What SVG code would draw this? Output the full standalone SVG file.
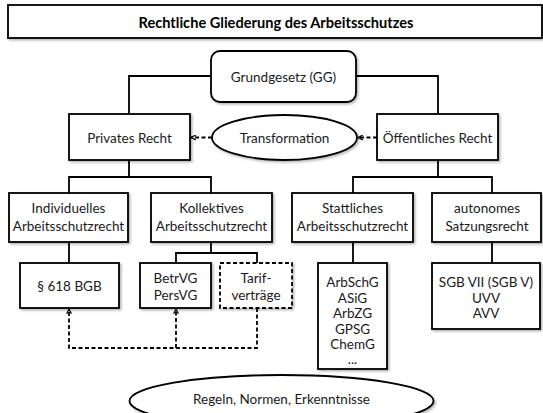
<svg xmlns="http://www.w3.org/2000/svg" width="543" height="413" viewBox="0 0 543 413">
<style>
.box{fill:#fff;stroke:#000;stroke-width:1.8;filter:url(#sh)}
.dbox{fill:#fff;stroke:#000;stroke-width:1.8;stroke-dasharray:4,2.5;filter:url(#sh)}
.ln{fill:none;stroke:#000;stroke-width:1.8}
.dl{fill:none;stroke:#000;stroke-width:1.8;stroke-dasharray:4,2.5}
text{font-family:Lato,"Open Sans","Liberation Sans",sans-serif;font-size:13.5px;fill:#1a1a1a;text-anchor:middle;dominant-baseline:central}
.t{font-weight:bold;font-size:14.6px;fill:#000}
</style>
<defs>
<filter id="sh" x="-10%" y="-10%" width="125%" height="130%">
<feDropShadow dx="1.5" dy="1.5" stdDeviation="1" flood-color="#000" flood-opacity="0.3"/>
</filter>
<marker id="ah" viewBox="0 0 10 10" refX="9" refY="5" markerWidth="6" markerHeight="6" markerUnits="userSpaceOnUse" orient="auto">
<path d="M1,1 L9,5 L1,9" fill="none" stroke="#000" stroke-width="2"/>
</marker>
</defs>
<g id="connectors">
<path class="ln" d="M211,76 H129 V114"/>
<path class="ln" d="M356,76 H438 V114"/>
<path class="ln" d="M129,160 V177 M69,193 V177 H211 V193"/>
<path class="ln" d="M438,160 V177 M353,193 V177 H492 V193"/>
<path class="ln" d="M69,242 V263"/>
<path class="ln" d="M211,242 V253 M176,263 V253 H257 V263"/>
<path class="ln" d="M353,242 V263"/>
<path class="ln" d="M492,242 V263"/>
<path class="dl" d="M212,137.5 H191" marker-end="url(#ah)"/>
<path class="dl" d="M377,137.5 H358" marker-end="url(#ah)"/>
<path class="dl" d="M257,308 V348 H69 V309" marker-end="url(#ah)"/>
<path class="dl" d="M176,348 V309" marker-end="url(#ah)"/>
</g>
<g id="title">
<rect class="box" x="8" y="5" width="534" height="33"/>
<text class="t" x="276" y="22">Rechtliche Gliederung des Arbeitsschutzes</text>
</g>
<g id="grundgesetz">
<rect class="box" x="211" y="51" width="145" height="51" rx="9"/>
<text x="283.5" y="77">Grundgesetz (GG)</text>
</g>
<g id="privates">
<rect class="box" x="69" y="114" width="121" height="46"/>
<text x="129.5" y="138">Privates Recht</text>
</g>
<g id="transformation">
<ellipse class="box" cx="284.5" cy="137.5" rx="72.5" ry="22.5"/>
<text x="284.5" y="138">Transformation</text>
</g>
<g id="oeffentliches">
<rect class="box" x="377" y="114" width="121" height="46"/>
<text x="437.5" y="138">Öffentliches Recht</text>
</g>
<g id="individuelles">
<rect class="box" x="9" y="193" width="119" height="49"/>
<text x="68.5" y="208">Individuelles</text>
<text x="68.5" y="226">Arbeitsschutzrecht</text>
</g>
<g id="kollektives">
<rect class="box" x="151" y="193" width="121" height="49"/>
<text x="211.5" y="208">Kollektives</text>
<text x="211.5" y="226">Arbeitsschutzrecht</text>
</g>
<g id="stattliches">
<rect class="box" x="292" y="193" width="121" height="49"/>
<text x="352.5" y="208">Stattliches</text>
<text x="352.5" y="226">Arbeitsschutzrecht</text>
</g>
<g id="autonomes">
<rect class="box" x="432" y="193" width="109" height="49"/>
<text x="487" y="208">autonomes</text>
<text x="487" y="226">Satzungsrecht</text>
</g>
<g id="bgb">
<rect class="box" x="20" y="263" width="99" height="45"/>
<text x="69.5" y="286">§ 618 BGB</text>
</g>
<g id="betrvg">
<rect class="box" x="140" y="263" width="71" height="45"/>
<text x="175.5" y="278">BetrVG</text>
<text x="175.5" y="295">PersVG</text>
</g>
<g id="tarif">
<rect class="dbox" x="220" y="263" width="72" height="45"/>
<text x="256" y="278">Tarif-</text>
<text x="256" y="295">verträge</text>
</g>
<g id="arbschg">
<rect class="box" x="318" y="263" width="69" height="106"/>
<text x="352.5" y="282">ArbSchG</text>
<text x="352.5" y="297.5">ASiG</text>
<text x="352.5" y="313">ArbZG</text>
<text x="352.5" y="328.5">GPSG</text>
<text x="352.5" y="344">ChemG</text>
<text x="352.5" y="359">...</text>
</g>
<g id="sgb">
<rect class="box" x="432" y="263" width="108" height="66"/>
<text x="486" y="282">SGB VII (SGB V)</text>
<text x="486" y="298">UVV</text>
<text x="486" y="313">AVV</text>
</g>
<g id="regeln">
<ellipse class="box" cx="281.5" cy="401" rx="152" ry="26"/>
<text x="281.5" y="399">Regeln, Normen, Erkenntnisse</text>
</g>
</svg>
